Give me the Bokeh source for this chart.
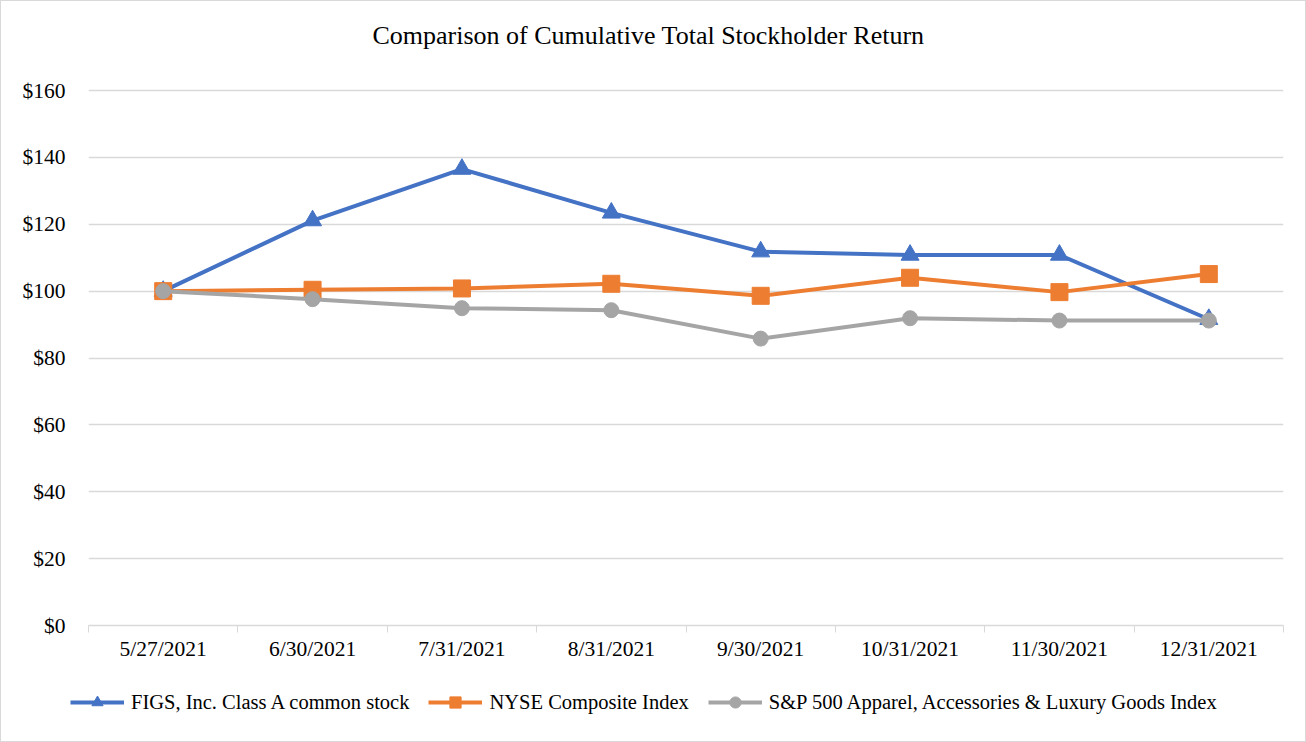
import numpy as np
from bokeh.plotting import figure
from bokeh.layouts import column
from bokeh.models import FixedTicker, Legend, LegendItem, NumeralTickFormatter, Range1d, Label
from bokeh.embed import file_html
from bokeh.resources import INLINE

dates = ["5/27/2021", "6/30/2021", "7/31/2021", "8/31/2021",
         "9/30/2021", "10/31/2021", "11/30/2021", "12/31/2021"]
figs = [100.0, 121.1, 136.5, 123.4, 111.8, 110.8, 110.8, 91.6]
nyse = [100.0, 100.4, 100.8, 102.2, 98.6, 104.0, 99.7, 105.1]
sp_apparel = [100.0, 97.6, 94.9, 94.3, 85.8, 91.9, 91.2, 91.2]
y_ticks = [0, 20, 40, 60, 80, 100, 120, 140, 160]

chart_title = "Comparison of Cumulative Total Stockholder Return"
series_names = ["FIGS, Inc. Class A common stock", "NYSE Composite Index",
                "S&P 500 Apparel, Accessories & Luxury Goods Index"]
colors = ["#4472C4", "#ED7D31", "#A5A5A5"]

FONT = "Liberation Serif"
FS = "21.5px"
W = 1304


def blank_fig(h, xr, yr):
    f = figure(width=W, height=h, output_backend="svg", toolbar_location=None,
               x_range=Range1d(*xr), y_range=Range1d(*yr),
               x_axis_location=None, y_axis_location=None,
               min_border=0, min_border_left=0, min_border_right=0,
               min_border_top=0, min_border_bottom=0)
    f.frame_align = False
    f.outline_line_color = None
    f.grid.visible = False
    f.background_fill_color = "white"
    f.border_fill_color = "white"
    return f


# title strip
TH = 77
tf = blank_fig(TH, (0, W), (0, TH))
tf.add_layout(Label(x=647, y=TH - 34, text=chart_title, text_align="center",
                    text_baseline="middle", text_font=FONT, text_font_size="26px",
                    text_color="#000000"))

x = np.arange(len(dates)) + 0.5

p = figure(frame_width=1195, frame_height=537, output_backend="svg", toolbar_location=None,
           x_range=Range1d(0, len(dates)), y_range=Range1d(0, 160.6),
           min_border_left=87, min_border_right=22, min_border_top=10, min_border_bottom=50)
p.frame_align = False
p.outline_line_color = None
p.background_fill_color = "white"
p.border_fill_color = "white"

# x axis: labels at category centres, ticks at boundaries
p.xaxis.ticker = FixedTicker(ticks=list(x), minor_ticks=list(range(len(dates) + 1)))
p.xaxis.major_label_overrides = {float(v): d for v, d in zip(x, dates)}
p.xaxis.major_tick_line_color = None
p.xaxis.major_tick_in = 0
p.xaxis.major_tick_out = 7
p.xaxis.minor_tick_line_color = "#D9D9D9"
p.xaxis.minor_tick_in = 0
p.xaxis.minor_tick_out = 7
p.xaxis.axis_line_color = "#D9D9D9"
p.xaxis.axis_line_width = 1.5
p.xaxis.major_label_text_font = FONT
p.xaxis.major_label_text_font_size = FS
p.xaxis.major_label_text_color = "#000000"
p.xaxis.major_label_standoff = 4

p.yaxis.ticker = FixedTicker(ticks=y_ticks)
p.yaxis.formatter = NumeralTickFormatter(format="$0")
p.yaxis.axis_line_color = None
p.yaxis.major_tick_line_color = None
p.yaxis.major_tick_in = 0
p.yaxis.major_tick_out = 0
p.yaxis.minor_tick_line_color = None
p.yaxis.major_label_text_font = FONT
p.yaxis.major_label_text_font_size = FS
p.yaxis.major_label_text_color = "#000000"
p.yaxis.major_label_standoff = 23

p.xgrid.grid_line_color = None
p.ygrid.grid_line_color = "#D9D9D9"
p.ygrid.grid_line_width = 1.5

# legend strip below the chart
lg = blank_fig(66, (100, 101), (100, 101))

items = []
markers = ["triangle", "square", "circle"]
sizes = [18, 17, 15]
for name, vals, c, m, s in zip(series_names, [figs, nyse, sp_apparel], colors, markers, sizes):
    p.line(x, vals, line_color=c, line_width=4)
    p.scatter(x, vals, marker=m, size=s, fill_color=c, line_color=c)
    l1 = lg.line(x, vals, line_color=c, line_width=4)
    l2 = lg.scatter(x, vals, marker=m, size=s, fill_color=c, line_color=c)
    items.append(LegendItem(label=name, renderers=[l1, l2]))

legend = Legend(items=items, orientation="horizontal", location=(69, 25),
                label_text_font=FONT, label_text_font_size="20.5px", label_text_color="#000000",
                glyph_width=54, glyph_height=28, spacing=19, label_standoff=7,
                border_line_color=None, background_fill_alpha=0, margin=0, padding=4)
lg.add_layout(legend, "center")

page = column(tf, p, lg, spacing=0, styles={"border": "1px solid #D9D9D9"})

open("out.html", "w").write(file_html(page, INLINE))
